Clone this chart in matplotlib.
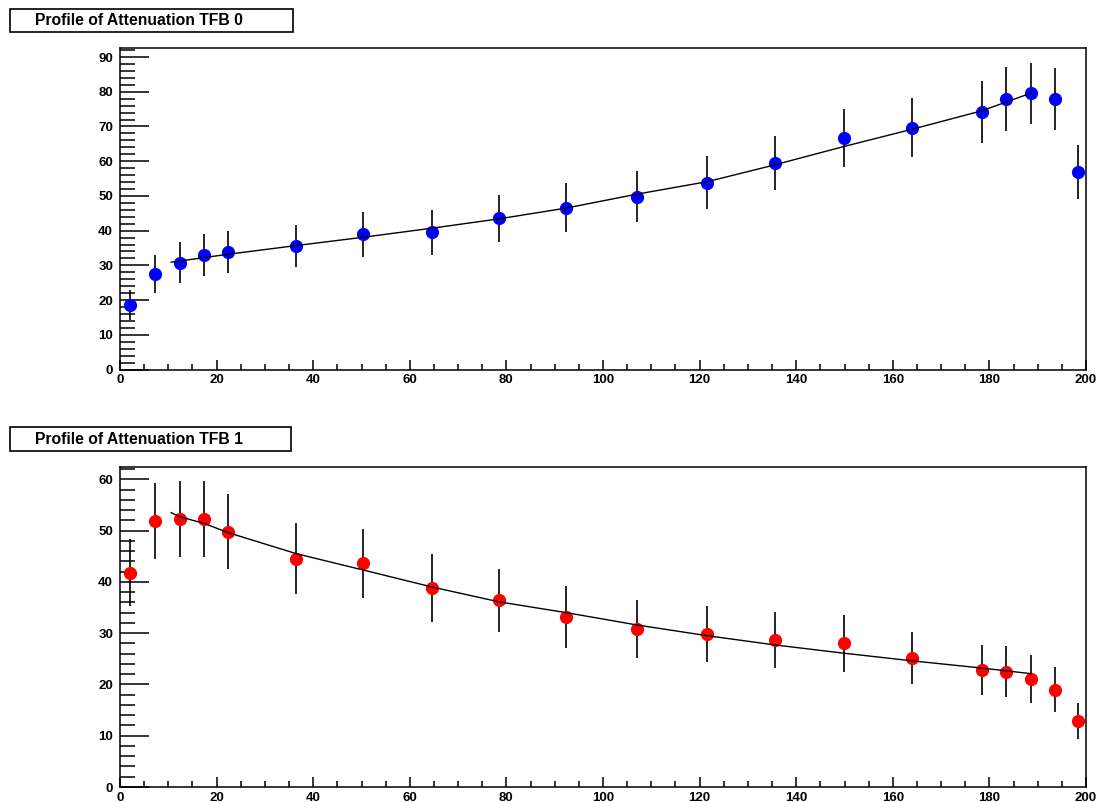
import matplotlib.pyplot as plt
from matplotlib.patches import Rectangle
from matplotlib.ticker import MultipleLocator

plt.rcParams['font.family'] = ['Liberation Sans', 'DejaVu Sans']

# bin centres (same for both profiles)
xPos = [2.0, 7.2, 12.4, 17.4, 22.4, 36.5, 50.4, 64.6, 78.5, 92.4,
        107.0, 121.6, 135.6, 149.8, 164.0, 178.4, 183.5, 188.6, 193.6, 198.4]

# TFB 0 profile
tfb0Mean = [18.6, 27.4, 30.8, 33.0, 33.9, 35.6, 39.0, 39.5, 43.6, 46.6,
            49.8, 53.8, 59.5, 66.6, 69.7, 74.2, 77.9, 79.5, 77.9, 57.0]
tfb0Err = [4.4, 5.5, 5.8, 6.0, 6.0, 6.1, 6.5, 6.5, 6.8, 7.1,
           7.3, 7.7, 7.8, 8.3, 8.6, 8.9, 9.1, 8.8, 8.8, 7.8]
tfb0FitX = [10.6, 22.4, 36.5, 50.4, 64.6, 78.5, 92.4, 107.0, 121.6, 134.6,
            149.8, 164.0, 178.4, 188.6]
tfb0FitY = [30.9, 33.2, 35.7, 38.1, 40.7, 43.4, 46.5, 50.5, 54.1, 58.6,
            64.2, 69.2, 74.5, 79.6]

# TFB 1 profile
tfb1Mean = [41.8, 51.9, 52.2, 52.3, 49.8, 44.5, 43.6, 38.8, 36.4, 33.1,
            30.8, 29.8, 28.7, 28.0, 25.2, 22.8, 22.5, 21.0, 19.0, 12.8]
tfb1Err = [6.6, 7.4, 7.4, 7.4, 7.3, 6.9, 6.7, 6.55, 6.2, 6.0,
           5.7, 5.5, 5.5, 5.5, 5.1, 4.8, 5.0, 4.7, 4.45, 3.5]
tfb1FitX = [10.6, 12.4, 17.4, 22.4, 36.5, 50.4, 64.6, 78.5, 92.4, 107.0,
            121.6, 135.6, 149.8, 164.0, 178.4, 188.6]
tfb1FitY = [53.5, 52.7, 51.4, 49.6, 45.5, 42.3, 39.0, 36.1, 34.0, 31.6,
            29.5, 27.7, 26.1, 24.6, 23.2, 22.1]

W, H = 1098, 802


def px(x0, y0, x1, y1):
    # pixel box -> figure rect
    return [x0 / W, 1 - y1 / H, (x1 - x0) / W, (y1 - y0) / H]


def drawPanel(fig, rect, titleBox, title, mean, err, color, fitX, fitY, ymax):
    ax = fig.add_axes(px(*rect))
    ax.errorbar(xPos, mean, yerr=err, fmt='o', color=color, ms=8.5,
                ecolor='black', elinewidth=1.2, capsize=0, zorder=2)
    ax.plot(fitX, fitY, color='black', lw=1.0, zorder=3)
    ax.set_xlim(0, 200)
    ax.set_ylim(0, ymax)
    ax.xaxis.set_major_locator(MultipleLocator(20))
    ax.xaxis.set_minor_locator(MultipleLocator(5))
    ax.yaxis.set_major_locator(MultipleLocator(10))
    ax.yaxis.set_minor_locator(MultipleLocator(2))
    ax.tick_params(axis='y', which='major', direction='in', length=21,
                   width=1.1, pad=5, labelsize=9.5)
    ax.tick_params(axis='y', which='minor', direction='in', length=10.5, width=1.1)
    ax.tick_params(axis='x', which='major', direction='in', length=7,
                   width=1.1, pad=3.5, labelsize=9.5)
    ax.tick_params(axis='x', which='minor', direction='in', length=4, width=1.1)
    ax.tick_params(top=False, right=False, which='both')
    for lab in ax.get_xticklabels() + ax.get_yticklabels():
        lab.set_fontweight('bold')
    for s in ax.spines.values():
        s.set_linewidth(1.1)

    # title box in ROOT style
    bx0, by0, bx1, by1 = titleBox
    fig.patches.append(Rectangle((bx0 / W, 1 - by1 / H), (bx1 - bx0) / W,
                                 (by1 - by0) / H, transform=fig.transFigure,
                                 fill=False, edgecolor='black', lw=1.2))
    fig.text((bx0 + 25) / W, 1 - (by0 + by1) / 2 / H, title, ha='left',
             va='center', fontsize=11.3, fontweight='bold')
    return ax


fig = plt.figure(figsize=(W / 100, H / 100), dpi=100)

drawPanel(fig, (120, 48, 1086, 369.5), (10, 9, 293, 32),
          'Profile of Attenuation TFB 0', tfb0Mean, tfb0Err, (0, 0, 1),
          tfb0FitX, tfb0FitY, 92.6)
drawPanel(fig, (120, 467, 1086, 787), (10, 427, 291, 451),
          'Profile of Attenuation TFB 1', tfb1Mean, tfb1Err, (1, 0, 0),
          tfb1FitX, tfb1FitY, 62.4)

fig.savefig('out.png', dpi=100)
